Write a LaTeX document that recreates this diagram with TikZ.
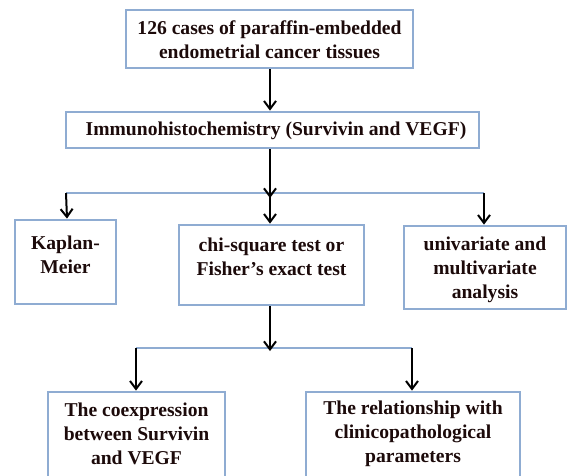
\documentclass[tikz,border=0pt]{standalone}
\usepackage{fontspec}
\setmainfont{Liberation Serif}
\usetikzlibrary{arrows.meta}
\definecolor{boxblue}{RGB}{143,172,210}
\definecolor{txtc}{RGB}{28,10,10}
\tikzset{
  box/.style={draw=boxblue, line width=2.8pt, rectangle, inner sep=0pt},
  txt/.style={text=txtc, font=\bfseries\fontsize{19.6}{24}\selectfont, align=center, inner sep=0pt},
  arr/.style={draw=black, line width=2pt, -{Straight Barb[length=8pt,width=12pt,line width=2pt]}},
  branch/.style={draw=boxblue, line width=2pt}
}
\begin{document}
\begin{tikzpicture}[x=1pt,y=-1pt]
\useasboundingbox (0,0) rectangle (567,475);
\clip (0,0) rectangle (567,475);
% boxes
\node[box, minimum width=287, minimum height=58] (b1) at (269.5,39) {};
\node[txt] (t1) at (269.5,40) {126 cases of paraffin-embedded\\endometrial cancer tissues};
\node[box, minimum width=413, minimum height=36] (b2) at (272.5,130) {};
\node[txt] (t2) at (276,131) {Immunohistochemistry (Survivin and VEGF)};
\node[box, minimum width=101, minimum height=84] (km) at (65.5,262) {};
\node[txt] (kmt) at (65.5,255) {Kaplan-\\Meier};
\node[box, minimum width=185, minimum height=80] (chi) at (271.5,265) {};
\node[txt] (chit) at (271.5,256.5) {chi-square test or\\Fisher’s exact test};
\node[box, minimum width=162, minimum height=83] (uni) at (485,267.5) {};
\node[txt] (unit) at (485,269.5) {univariate and\\multivariate\\analysis};
\node[box, minimum width=177, minimum height=110] (co) at (136.5,447) {};
\node[txt] (cot) at (136.5,434) {The coexpression\\between Survivin\\and VEGF};
\node[box, minimum width=214, minimum height=110] (rel) at (413,447) {};
\node[txt] (relt) at (413,433.5) {The relationship with\\clinicopathological\\parameters};
% junction coordinates
\coordinate (j1) at (270,193);
\coordinate (jl) at (66,193);
\coordinate (jm) at (270,193);
\coordinate (jr) at (484,193);
\coordinate (k1) at (270,348);
\coordinate (kl) at (136,348);
\coordinate (kr) at (412,348);
% connectors
\draw[arr] (b1.south -| j1) -- (b2.north -| j1);
\draw[branch] (jl) -- (jr);
\draw[arr] (b2.south -| j1) -- ([yshift=-5pt]j1);
\draw[arr] (jl) -- ([xshift=1pt]km.north -| jl);
\draw[arr] (jm) -- (chi.north -| jm);
\draw[arr] (jr) -- (uni.north -| jr);
\draw[branch] (kl) -- (kr);
\draw[arr] (chi.south -| k1) -- ([yshift=-3pt]k1);
\draw[arr] (kl) -- (co.north -| kl);
\draw[arr] (kr) -- (rel.north -| kr);
\end{tikzpicture}
\end{document}
